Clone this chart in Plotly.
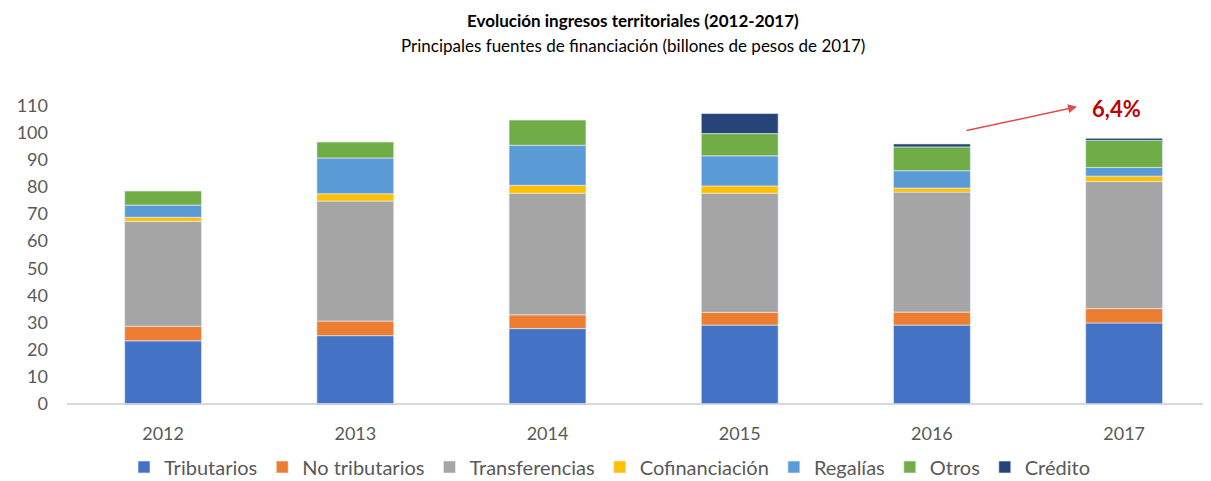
import plotly.graph_objects as go

years = ["2012", "2013", "2014", "2015", "2016", "2017"]
tributarios = [23.2, 25.1, 27.7, 29.0, 29.0, 29.8]
no_tributarios = [5.4, 5.4, 5.1, 4.7, 4.8, 5.3]
transferencias = [38.7, 44.3, 44.9, 44.0, 44.3, 46.9]
cofinanciacion = [1.5, 2.7, 2.9, 2.7, 1.5, 2.0]
regalias = [4.5, 13.2, 14.8, 11.1, 6.4, 3.2]
otros = [5.2, 5.9, 9.3, 8.2, 8.8, 10.0]
credito = [-0.3, -0.3, -0.3, 7.4, 1.1, 0.8]
y_ticks = [0, 10, 20, 30, 40, 50, 60, 70, 80, 90, 100, 110]

series = [
    ("Tributarios", tributarios, "#4472C4"),
    ("No tributarios", no_tributarios, "#ED7D31"),
    ("Transferencias", transferencias, "#A5A5A5"),
    ("Cofinanciación", cofinanciacion, "#FFC000"),
    ("Regalías", regalias, "#5B9BD5"),
    ("Otros", otros, "#70AD47"),
    ("Crédito", credito, "#264478"),
]

font_family = "Lato, 'Open Sans', sans-serif"

# page body has an 8px margin, so the figure is offset by 8px
OFF = 8
W, H = 1211 - OFF, 481 - OFF
plot_left = 67 - OFF
plot_top = 103 - OFF
plot_bottom = 405.4 - OFF

fig = go.Figure()
for name, vals, color in series:
    fig.add_trace(go.Bar(
        x=years, y=vals, name=name,
        marker=dict(color=color, line=dict(color="rgba(235,238,250,0.8)", width=0.8)),
    ))

fig.update_layout(
    width=W, height=H,
    barmode="relative",
    bargap=0.6,
    plot_bgcolor="white",
    paper_bgcolor="white",
    margin=dict(l=plot_left, r=0, t=plot_top, b=H - plot_bottom, autoexpand=False),
    font=dict(family=font_family, color="#595959", size=18),
    legend=dict(
        orientation="h", x=0.5, xanchor="center", xref="container",
        y=(H - (467 - OFF)) / H, yanchor="middle", yref="container",
        font=dict(size=20, color="#595959"),
        traceorder="normal", itemwidth=30,
    ),
    xaxis=dict(
        range=[-0.5, 5.452], showgrid=False, showline=False, ticks="",
        tickfont=dict(size=18, color="#595959"), automargin=False,
        ticklabelstandoff=16,
    ),
    yaxis=dict(
        range=[-0.5, 111], tickvals=y_ticks, showgrid=False, showline=False,
        zeroline=True, zerolinecolor="#D9D9D9", zerolinewidth=1.5,
        tickfont=dict(size=18, color="#595959"), ticklabelstandoff=18,
        automargin=False,
    ),
)

def py(page_y):
    return (plot_bottom - (page_y - OFF)) / (plot_bottom - plot_top)

def px(page_x):
    return ((page_x - OFF) - plot_left) / (W - plot_left)

fig.add_annotation(
    x=px(633), y=py(20), xref="paper", yref="paper",
    text="<b>Evolución ingresos territoriales (2012-2017)</b>", showarrow=False,
    font=dict(size=17, color="#000000", family=font_family), yanchor="middle",
)
fig.add_annotation(
    x=px(633), y=py(45), xref="paper", yref="paper",
    text="Principales fuentes de financiación (billones de pesos de 2017)", showarrow=False,
    font=dict(size=17, color="#000000", family=font_family), yanchor="middle",
)

fig.add_annotation(
    x=4.755, y=109.6, ax=4.172, ay=100.7, xref="x", yref="y", axref="x", ayref="y",
    text="", showarrow=True, arrowhead=2, arrowsize=1.2, arrowwidth=1.5, arrowcolor="#E04B4B",
)
fig.add_annotation(
    x=4.96, y=108.9, xref="x", yref="y", text="<b>6,4%</b>", showarrow=False,
    font=dict(size=22, color="#C00000", family=font_family),
)

fig.write_html("out.html")
